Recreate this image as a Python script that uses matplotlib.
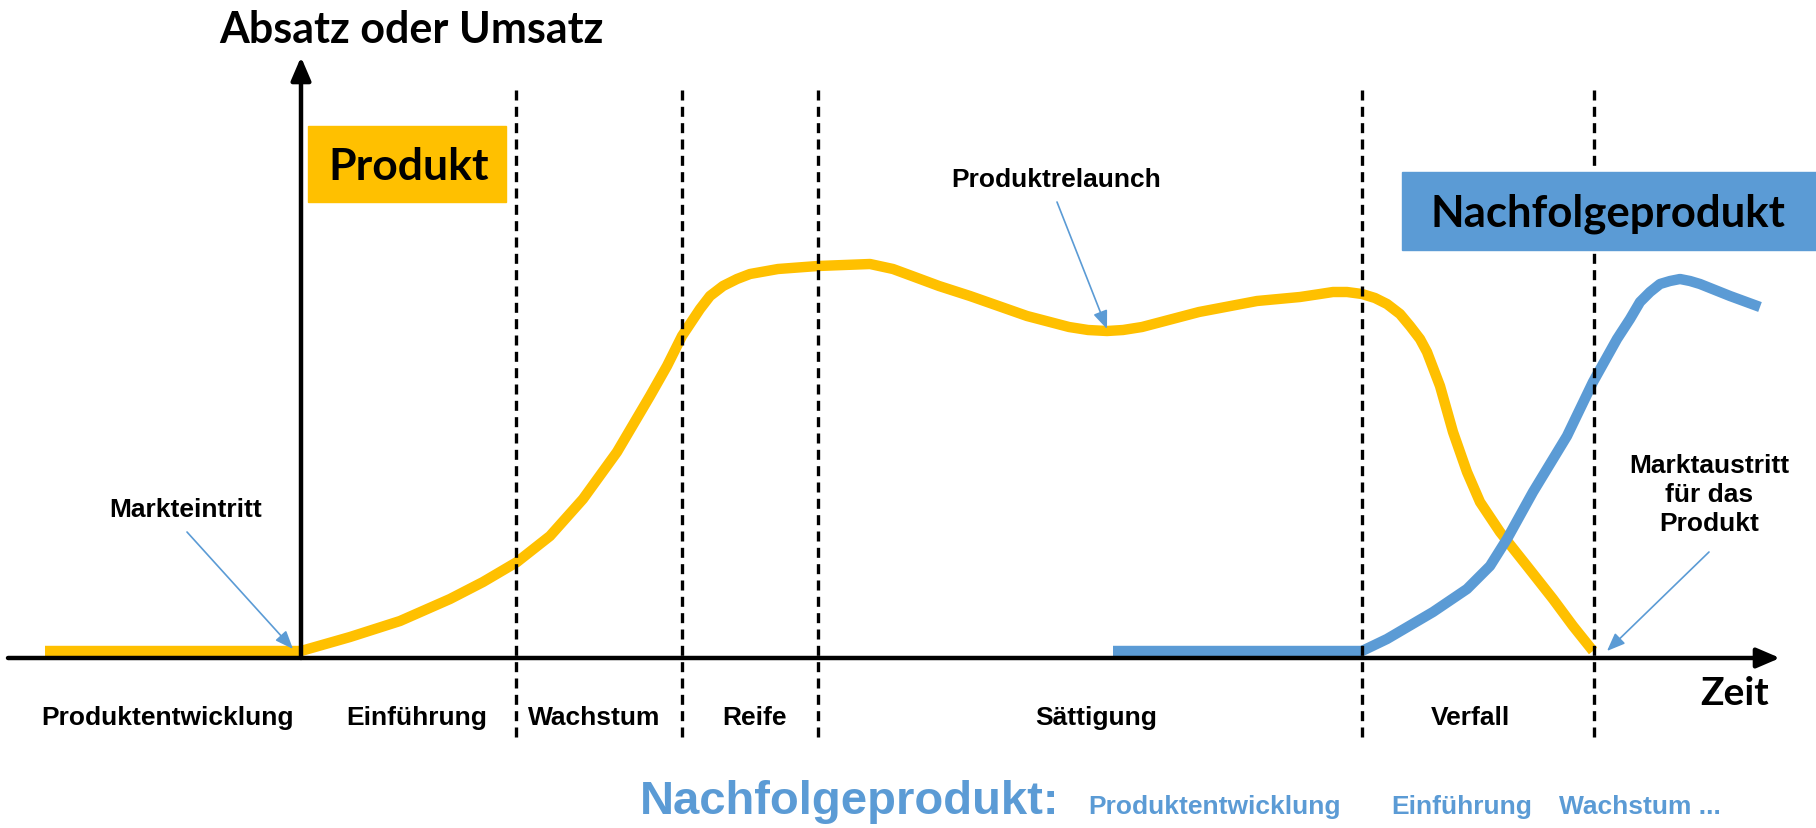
import matplotlib
matplotlib.use('Agg')
import matplotlib.pyplot as plt
from matplotlib.patches import Rectangle

# Produktlebenszyklus - Werte (Zeit / Absatz in beliebigen Einheiten)
produkt_zeit = [-2.56, 0.00, 0.49, 0.99, 1.49, 1.82, 2.16, 2.49, 2.82, 3.16, 3.49, 3.66,
                3.81, 3.99, 4.09, 4.22, 4.36, 4.49, 4.77, 5.17, 5.69, 5.92, 6.11, 6.38,
                6.69, 7.26, 7.68, 7.87, 8.06, 8.22, 8.41, 8.98, 9.56, 9.99, 10.19, 10.32,
                10.46, 10.61, 10.74, 10.86, 10.99, 11.09, 11.19, 11.26, 11.39, 11.52,
                11.66, 11.79, 11.99, 12.26, 12.52, 12.72, 12.92]
produkt_absatz = [0.07, 0.07, 0.21, 0.37, 0.59, 0.76, 0.96, 1.22, 1.59, 2.06, 2.62, 2.92,
                  3.22, 3.49, 3.62, 3.72, 3.79, 3.84, 3.89, 3.92, 3.94, 3.89, 3.82, 3.72,
                  3.62, 3.42, 3.31, 3.28, 3.27, 3.28, 3.31, 3.46, 3.57, 3.61, 3.64, 3.66,
                  3.66, 3.64, 3.60, 3.54, 3.44, 3.32, 3.19, 3.06, 2.72, 2.26,
                  1.86, 1.56, 1.26, 0.92, 0.59, 0.32, 0.07]

nachfolger_zeit = [8.12, 10.61, 10.86, 11.32, 11.66, 11.89, 12.06, 12.32, 12.66, 12.92,
                   13.16, 13.29, 13.39, 13.49, 13.59, 13.69, 13.79, 13.89, 13.99, 14.29,
                   14.59]
nachfolger_absatz = [0.07, 0.07, 0.19, 0.46, 0.69, 0.92, 1.19, 1.66, 2.22, 2.76,
                     3.19, 3.39, 3.56, 3.66, 3.74, 3.77, 3.79, 3.77, 3.74, 3.62,
                     3.51]

phasen_grenzen = [2.15, 3.81, 5.17, 10.61, 12.93]
phasen = ['Produktentwicklung', 'Einführung', 'Wachstum', 'Reife', 'Sättigung', 'Verfall']
phasen_x = [-1.33, 1.16, 2.93, 4.54, 7.95, 11.69]

nachfolger_phasen = ['Produktentwicklung', 'Einführung', 'Wachstum ...']
nachfolger_phasen_x = [9.14, 11.61, 13.39]

GELB = '#FFC000'
BLAU = '#5B9BD5'
GROSS = ['Lato', 'DejaVu Sans']
KLEIN = ['Liberation Sans', 'DejaVu Sans']

fig = plt.figure(figsize=(18.16, 8.29), dpi=100)
ax = fig.add_axes([0, 0, 1, 1])
ax.set_xlim(-3.01, 15.15)
ax.set_ylim(-1.70, 6.59)
ax.axis('off')

# Kurven
ax.plot(produkt_zeit, produkt_absatz, color=GELB, lw=7.5, solid_capstyle='butt',
        solid_joinstyle='round', zorder=2)
ax.plot(nachfolger_zeit, nachfolger_absatz, color=BLAU, lw=7.5, solid_capstyle='butt',
        solid_joinstyle='round', zorder=2)

# Phasengrenzen
ax.vlines(phasen_grenzen, -0.79, 5.72, colors='black', lw=2.4,
          linestyles=[(0, (3.0, 1.9))], zorder=3)

# Achsen mit Pfeil
pfeil = dict(arrowstyle='-|>,head_length=0.7,head_width=0.3', color='black', lw=3.2,
             shrinkA=0, shrinkB=0, mutation_scale=20)
ax.annotate('', xy=(14.79, 0), xytext=(-2.93, 0), arrowprops=pfeil, zorder=3)
ax.annotate('', xy=(0, 6.01), xytext=(0, 0), arrowprops=pfeil, zorder=3)

ax.text(1.10, 6.16, 'Absatz oder Umsatz', family=GROSS, weight='bold', fontsize=31,
        ha='center', va='baseline')
ax.text(14.34, -0.46, 'Zeit', family=GROSS, weight='bold', fontsize=28,
        ha='center', va='baseline')

# Kästen
ax.add_patch(Rectangle((0.07, 4.56), 1.98, 0.76, color=GELB, zorder=4))
ax.text(1.08, 4.79, 'Produkt', family=GROSS, weight='bold', fontsize=32,
        ha='center', va='baseline', zorder=5)
ax.add_patch(Rectangle((11.01, 4.08), 4.14, 0.78, color=BLAU, zorder=4))
ax.text(13.07, 4.32, 'Nachfolgeprodukt', family=GROSS, weight='bold', fontsize=31.5,
        ha='center', va='baseline', zorder=5)

# Phasen
for name, x in zip(phasen, phasen_x):
    ax.text(x, -0.66, name, family=KLEIN, weight='bold', fontsize=19,
            ha='center', va='baseline')

# Hinweise mit Pfeil
hinweis = dict(arrowstyle='-|>,head_length=0.55,head_width=0.22', color=BLAU, lw=1.2,
               shrinkA=0, shrinkB=0, mutation_scale=20)
ax.text(-1.15, 1.42, 'Markteintritt', family=KLEIN, weight='bold', fontsize=19,
        ha='center', va='baseline')
ax.annotate('', xy=(-0.08, 0.09), xytext=(-1.14, 1.26), arrowprops=hinweis)
ax.text(7.55, 4.72, 'Produktrelaunch', family=KLEIN, weight='bold', fontsize=19,
        ha='center', va='baseline')
ax.annotate('', xy=(8.06, 3.29), xytext=(7.56, 4.56), arrowprops=hinweis)
ax.text(14.08, 1.64, 'Marktaustritt\nfür das\nProdukt', family=KLEIN, weight='bold',
        fontsize=19, ha='center', va='center', multialignment='center', linespacing=1.25)
ax.annotate('', xy=(13.06, 0.07), xytext=(14.08, 1.06), arrowprops=hinweis)

# Nachfolgeprodukt-Zeile unten
ax.text(3.39, -1.55, 'Nachfolgeprodukt:', family=KLEIN, weight='bold', fontsize=34,
        color=BLAU, ha='left', va='baseline')
for name, x in zip(nachfolger_phasen, nachfolger_phasen_x):
    ax.text(x, -1.55, name, family=KLEIN, weight='bold', fontsize=19, color=BLAU,
            ha='center', va='baseline')

fig.savefig('out.png', dpi=100)
